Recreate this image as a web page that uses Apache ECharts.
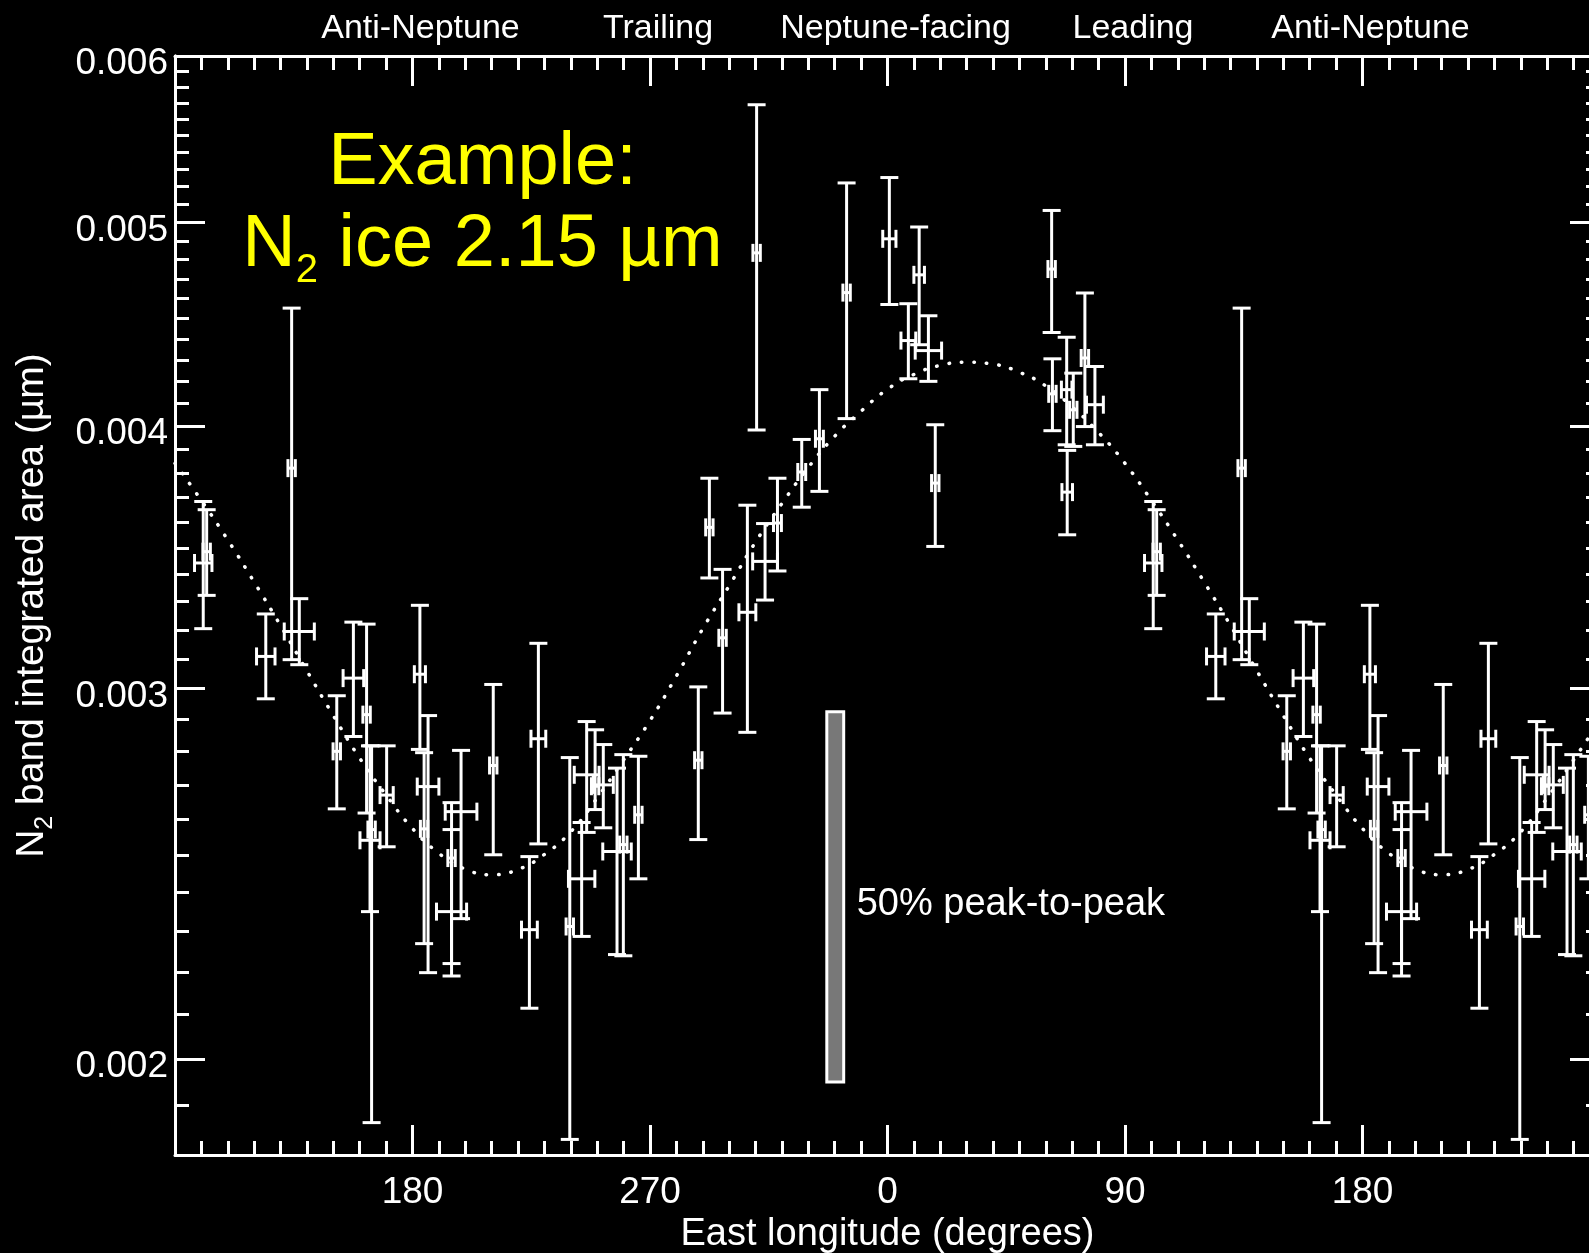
<!DOCTYPE html>
<html>
<head>
<meta charset="utf-8">
<script src="https://cdn.jsdelivr.net/npm/echarts@6/dist/echarts.min.js"></script>
<style>
  html, body { margin: 0; padding: 0; background: #000; }
  #chart { width: 1589px; height: 1253px; }
</style>
</head>
<body>
<div id="chart"></div>
<script>
// N2 2.15 um band integrated area versus Triton east longitude.
// One entry per measurement: longitude, band area, error-bar ends, longitude half-width.
const obsLon = [0.7, 7.9, 12.0, 15.5, 18.1, 62.2, 62.5, 67.9, 68.1, 70.4, 74.8, 78.6,
  100.7, 102.0, 124.4, 134.2, 137.1, 151.3, 157.6, 162.6, 163.9, 164.5, 170.2,
  182.8, 184.4, 185.9, 194.8, 194.8, 198.4, 210.6, 224.3, 227.7, 239.6, 244.1,
  246.0, 249.2, 252.3, 257.5, 259.9, 265.6, 288.3, 292.5, 297.5, 306.9, 310.4,
  313.6, 318.3, 327.5, 334.2, 344.5];
const obsArea = [0.004911, 0.004393, 0.004721, 0.004345, 0.003758, 0.004751, 0.004144, 0.004163, 0.003721, 0.004072, 0.004310, 0.004095,
  0.003443, 0.003486, 0.003108, 0.003820, 0.003194, 0.002801, 0.003035, 0.002916, 0.002541, 0.002571, 0.002670,
  0.003048, 0.002573, 0.002695, 0.002492, 0.002350, 0.002622, 0.002758, 0.002304, 0.002840, 0.002312, 0.002436,
  0.002730, 0.002696, 0.002700, 0.002510, 0.002529, 0.002613, 0.002774, 0.003580, 0.003172, 0.003262, 0.004836,
  0.003449, 0.003597, 0.003804, 0.003945, 0.004630];
const obsLow = [0.004570, 0.004213, 0.004373, 0.004201, 0.003506, 0.004432, 0.003980, 0.003919, 0.003551, 0.003912, 0.003998, 0.003919,
  0.003204, 0.003323, 0.002967, 0.003097, 0.003080, 0.002630, 0.002847, 0.002618, 0.002350, 0.001865, 0.002523,
  0.002807, 0.002269, 0.002198, 0.002220, 0.002190, 0.002332, 0.002501, 0.002114, 0.002531, 0.001831, 0.002287,
  0.002563, 0.002628, 0.002576, 0.002242, 0.002239, 0.002436, 0.002543, 0.003387, 0.002921, 0.002860, 0.003983,
  0.003306, 0.003413, 0.003660, 0.003724, 0.004033];
const obsHigh = [0.005252, 0.004574, 0.004975, 0.004514, 0.004006, 0.005066, 0.004306, 0.004409, 0.003895, 0.004239, 0.004628, 0.004270,
  0.003683, 0.003650, 0.003256, 0.004552, 0.003311, 0.002977, 0.003227, 0.003220, 0.002818, 0.002818, 0.002818,
  0.003287, 0.002797, 0.002913, 0.002648, 0.002571, 0.002804, 0.003014, 0.002496, 0.003153, 0.002782, 0.002591,
  0.002894, 0.002868, 0.002822, 0.002750, 0.002791, 0.002786, 0.003006, 0.003778, 0.003419, 0.003668, 0.005688,
  0.003595, 0.003778, 0.003942, 0.004163, 0.005221];
const obsLonErr = [2.5, 2.8, 2.0, 5.0, 1.4, 1.4, 1.4, 2.0, 2.0, 1.4, 1.4, 3.2,
  3.3, 1.4, 3.5, 1.4, 5.7, 1.4, 3.9, 1.4, 3.8, 1.4, 2.5,
  2.1, 1.4, 4.1, 1.4, 5.7, 6.0, 1.4, 3.0, 2.8, 1.4, 5.0,
  4.7, 1.4, 3.8, 5.4, 1.4, 1.4, 1.4, 1.4, 1.4, 3.2, 1.4,
  4.7, 1.5, 1.5, 1.5, 1.4];

// Sinusoidal fit, sampled every 10 degrees of longitude
const fitLon = [0, 10, 20, 30, 40, 50, 60, 70, 80, 90, 100, 110, 120, 130, 140, 150, 160, 170,
  180, 190, 200, 210, 220, 230, 240, 250, 260, 270, 280, 290, 300, 310, 320, 330, 340, 350];
const fitArea = [0.004165, 0.004233, 0.004275, 0.004290, 0.004281, 0.004243, 0.004180, 0.004085, 0.003972,
  0.003840, 0.003687, 0.003531, 0.003372, 0.003215, 0.003059, 0.002913, 0.002780, 0.002670,
  0.002574, 0.002505, 0.002462, 0.002447, 0.002461, 0.002502, 0.002565, 0.002662, 0.002775,
  0.002897, 0.003042, 0.003204, 0.003358, 0.003523, 0.003675, 0.003823, 0.003956, 0.004066];

// Reference bar showing half of the fitted peak-to-peak amplitude
const scaleBarLon = [340.2];
const scaleBarLow = [0.00195];
const scaleBarHigh = [0.002925];
const scaleBarHalfWidth = [3.2];
const scaleBarText = '50% peak-to-peak';

// Axis ticks and labels
const lonMin = 90, lonMax = 630;
const regionTicks = [180, 270, 360, 450, 540];
const regionNames = ['Anti-Neptune', 'Trailing', 'Neptune-facing', 'Leading', 'Anti-Neptune'];
const areaMin = 0.0018, areaMax = 0.006;
const areaMajorTicks = [0.002, 0.003, 0.004, 0.005, 0.006];
const areaMinorTicks = [0.0019,
  0.0021, 0.0022, 0.0023, 0.0024, 0.0025, 0.0026, 0.0027, 0.0028, 0.0029,
  0.0031, 0.0032, 0.0033, 0.0034, 0.0035, 0.0036, 0.0037, 0.0038, 0.0039,
  0.0041, 0.0042, 0.0043, 0.0044, 0.0045, 0.0046, 0.0047, 0.0048, 0.0049,
  0.0051, 0.0052, 0.0053, 0.0054, 0.0055, 0.0056, 0.0057, 0.0058, 0.0059];

// The longitude axis runs 90..630, so 90..270 is shown twice.
function unwrap(l) { return l < lonMin ? l + 360 : l; }
function placements(l) {
  const u = unwrap(l);
  return u + 360 <= lonMax ? [u, u + 360] : [u];
}

const errData = [];
obsLon.forEach((l, i) => {
  placements(l).forEach(u => errData.push([u, obsArea[i], obsLow[i], obsHigh[i], obsLonErr[i]]));
});
const fitData = [];
fitLon.forEach((l, i) => placements(l).forEach(u => fitData.push([u, fitArea[i]])));
fitData.sort((a, b) => a[0] - b[0]);
const barData = scaleBarLon.map((l, i) => [unwrap(l), scaleBarLow[i], scaleBarHigh[i], scaleBarHalfWidth[i]]);

const FONT = 'Liberation Sans';
const WHITE = '#ffffff';
const lineSt = { color: WHITE, width: 3 };

function yAxisDef(position, ticks, len, labels) {
  return {
    type: 'log', position: position, min: areaMin, max: areaMax,
    axisLine: { show: true, lineStyle: lineSt },
    axisTick: { show: true, inside: true, length: len, lineStyle: lineSt, customValues: ticks },
    axisLabel: labels ? {
      show: true, customValues: ticks, color: WHITE, fontFamily: FONT, fontSize: 37, margin: 7,
      verticalAlign: 'top', lineHeight: 16,
      formatter: v => Number(v).toFixed(3)
    } : { show: false },
    splitLine: { show: false }, minorTick: { show: false }
  };
}

const chart = echarts.init(document.getElementById('chart'), null, { renderer: 'canvas', width: 1589, height: 1253 });

chart.setOption({
  backgroundColor: '#000000',
  animation: false,
  grid: { left: 175, top: 56, width: 1425, height: 1099, containLabel: false, outerBoundsMode: 'none' },
  graphic: [{
    type: 'text', x: 482.5, y: 127, z: 10,
    style: {
      text: '{m|Example:}\n{m|N}{s|2}{m| ice 2.15 µm}',
      align: 'center', verticalAlign: 'top', fill: '#ffff00',
      rich: {
        m: { fontFamily: FONT, fontSize: 74, lineHeight: 82, fill: '#ffff00', verticalAlign: 'top' },
        s: { fontFamily: FONT, fontSize: 40, lineHeight: 14, fill: '#ffff00', verticalAlign: 'bottom' }
      }
    }
  }],
  xAxis: [{
    type: 'value', position: 'bottom', min: lonMin, max: lonMax, interval: 90,
    axisLine: { show: true, onZero: false, lineStyle: lineSt },
    axisTick: { show: true, inside: true, length: 30, lineStyle: lineSt },
    minorTick: { show: true, splitNumber: 9, length: 14, lineStyle: lineSt },
    splitLine: { show: false }, minorSplitLine: { show: false },
    axisLabel: {
      color: WHITE, fontFamily: FONT, fontSize: 37, margin: 19,
      showMinLabel: false, showMaxLabel: false,
      formatter: v => (v <= lonMin || v >= lonMax) ? '' : String(v % 360)
    },
    name: 'East longitude (degrees)', nameLocation: 'middle', nameGap: 60,
    nameTextStyle: { color: WHITE, fontFamily: FONT, fontSize: 38 }
  }, {
    type: 'value', position: 'top', min: lonMin, max: lonMax, interval: 90,
    axisLine: { show: true, onZero: false, lineStyle: lineSt },
    axisTick: { show: true, inside: true, length: 30, lineStyle: lineSt },
    minorTick: { show: true, splitNumber: 9, length: 14, lineStyle: lineSt },
    splitLine: { show: false }, minorSplitLine: { show: false },
    axisLabel: {
      color: WHITE, fontFamily: FONT, fontSize: 34, margin: 10,
      padding: [0, 0, 0, 16],
      showMinLabel: false, showMaxLabel: false,
      formatter: v => { const k = regionTicks.indexOf(v); return k < 0 ? '' : regionNames[k]; }
    }
  }],
  yAxis: [
    Object.assign(yAxisDef('left', areaMajorTicks, 30, true), {
      name: '{m|N}{s|2}{m| band integrated area (µm)}',
      nameLocation: 'middle', nameGap: 117,
      nameTextStyle: {
        color: WHITE,
        rich: {
          m: { fontFamily: FONT, fontSize: 39, lineHeight: 45, color: WHITE, verticalAlign: 'top' },
          s: { fontFamily: FONT, fontSize: 25, lineHeight: 16, color: WHITE, verticalAlign: 'bottom' }
        }
      }
    }),
    yAxisDef('left', areaMinorTicks, 14, false),
    yAxisDef('right', areaMajorTicks, 30, false),
    yAxisDef('right', areaMinorTicks, 14, false)
  ],
  series: [{
    name: 'fit', type: 'line', xAxisIndex: 0, yAxisIndex: 0,
    data: fitData, showSymbol: false, smooth: true, clip: true, z: 2,
    lineStyle: { color: WHITE, width: 3.5, type: [0.5, 12], cap: 'round' }
  }, {
    name: 'measurements', type: 'custom', xAxisIndex: 0, yAxisIndex: 0,
    data: errData, encode: { x: 0, y: 1 }, clip: true, z: 3,
    renderItem: (params, api) => {
      const x = api.value(0), y = api.value(1), lo = api.value(2), hi = api.value(3), dx = api.value(4);
      const c = api.coord([x, y]);
      const top = api.coord([x, hi]);
      const bot = api.coord([x, lo]);
      const left = api.coord([x - dx, y]);
      const right = api.coord([x + dx, y]);
      const cap = 9;
      const st = { stroke: WHITE, lineWidth: 3 };
      const seg = (x1, y1, x2, y2) => ({ type: 'line', shape: { x1, y1, x2, y2 }, style: st });
      return {
        type: 'group',
        children: [
          seg(c[0], top[1], c[0], bot[1]),
          seg(c[0] - cap, top[1], c[0] + cap, top[1]),
          seg(c[0] - cap, bot[1], c[0] + cap, bot[1]),
          seg(left[0], c[1], right[0], c[1]),
          seg(left[0], c[1] - cap, left[0], c[1] + cap),
          seg(right[0], c[1] - cap, right[0], c[1] + cap)
        ]
      };
    }
  }, {
    name: 'scale bar', type: 'custom', xAxisIndex: 0, yAxisIndex: 0,
    data: barData, encode: { x: 0, y: 1 }, clip: false, z: 3,
    renderItem: (params, api) => {
      const x = api.value(0), lo = api.value(1), hi = api.value(2), hw = api.value(3);
      const p1 = api.coord([x - hw, hi]);
      const p2 = api.coord([x + hw, lo]);
      return {
        type: 'group',
        children: [{
          type: 'rect',
          shape: { x: p1[0], y: p1[1], width: p2[0] - p1[0], height: p2[1] - p1[1] },
          style: { fill: '#787878', stroke: WHITE, lineWidth: 3 }
        }, {
          type: 'text',
          x: p2[0] + 13, y: (p1[1] + p2[1]) / 2 + 8,
          style: { text: scaleBarText, fill: WHITE, fontFamily: FONT, fontSize: 38, align: 'left', verticalAlign: 'middle' }
        }]
      };
    }
  }]
});
</script>
</body>
</html>
